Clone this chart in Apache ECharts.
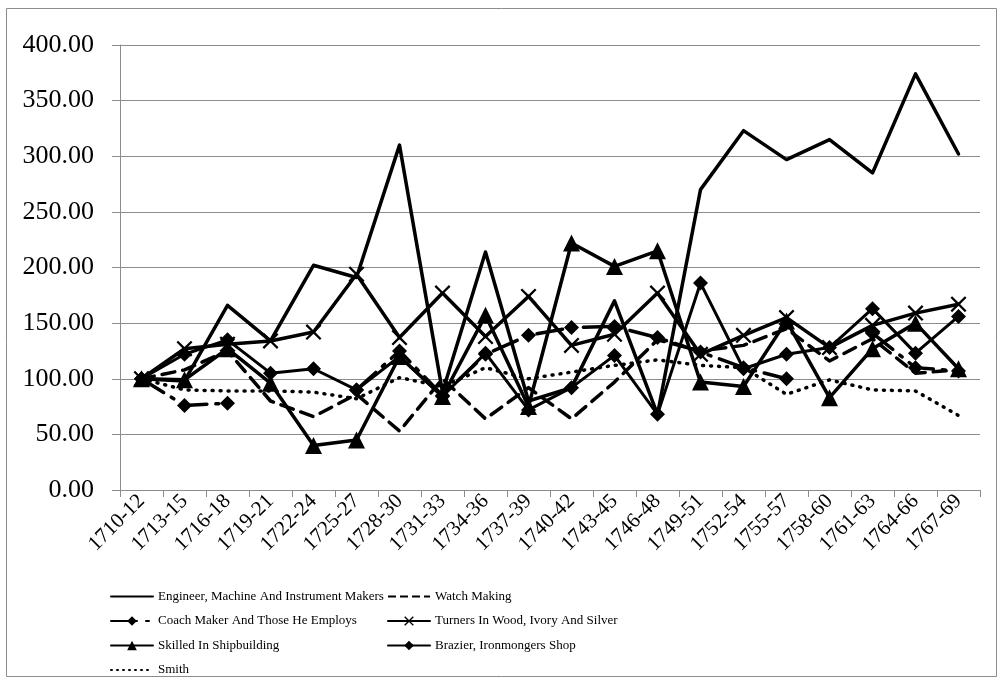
<!DOCTYPE html>
<html>
<head>
<meta charset="utf-8">
<script src="https://cdn.jsdelivr.net/npm/echarts@6/dist/echarts.min.js"></script>
<style>
  html, body { margin: 0; padding: 0; background: #fff; }
  #main { width: 1003px; height: 683px; }
</style>
</head>
<body>
<div id="main"></div>
<script>
const periods = ['1710-12', '1713-15', '1716-18', '1719-21', '1722-24', '1725-27', '1728-30',
  '1731-33', '1734-36', '1737-39', '1740-42', '1743-45', '1746-48', '1749-51', '1752-54',
  '1755-57', '1758-60', '1761-63', '1764-66', '1767-69'];

const engineer = [100, 98, 166, 134, 202, 191, 310, 88, 214, 80, 92, 170, 68, 270, 323, 297, 315, 285, 374, 302];
const watch = [100, 108, 125, 80, 66, 86, 53, 100, 64, 92, 64, 97, 135, 125, 130, 145, 116, 136, 105, 108];
const coach = [100, 76, 78, null, null, 90, 125, 85, 122, 139, 146, 147, 137, 124, 110, 100, null, 141, 110, 107];
const turners = [100, 127, 131, 134, 142, 194, 137, 177, 138, 174, 130, 140, 177, 122, 139, 155, 128, 148, 159, 167];
const skilled = [100, 99, 127, 96, 40, 45, 120, 84, 157, 75, 222, 201, 215, 97, 93, 152, 83, 127, 150, 109];
const brazier = [100, 122, 135, 105, 109, 90, 120, 84, 123, 72, 92, 121, 68, 186, 109, 122, 128, 163, 123, 156];
const smith = [100, 90, 89, 89, 88, 82, 101, 93, 110, 100, 106, 112, 117, 112, 110, 86, 99, 90, 89, 67];

const serif = "'Liberation Serif', 'DejaVu Serif', serif";
const xMark = 'path://M0,1 L1,0 L5,4 L9,0 L10,1 L6,5 L10,9 L9,10 L5,6 L1,10 L0,9 L4,5 Z';

const mk = (name, data, lineType, width, symbol, size) => ({
  name: name,
  type: 'line',
  data: data,
  symbol: symbol || 'none',
  symbolSize: size || 0,
  showSymbol: !!symbol,
  connectNulls: false,
  itemStyle: { color: '#000' },
  lineStyle: { color: '#000', width: width, type: lineType, cap: 'round', join: 'round' },
  emphasis: { disabled: true },
  animation: false,
});

// series without markers: hide the dot the legend adds
const noDot = { color: 'rgba(0,0,0,0)', borderWidth: 0 };

const legendBase = {
  orient: 'vertical',
  top: 585,
  height: 120,
  itemWidth: 42, itemHeight: 12, itemGap: 11.5,
  textStyle: { fontFamily: serif, fontSize: 13, color: '#000' },
};

const myChart = echarts.init(document.getElementById('main'));

const option = {
  backgroundColor: '#fff',
  animation: false,
  graphic: [{
    type: 'rect',
    shape: { x: 6.5, y: 8.5, width: 990, height: 668 },
    style: { fill: 'none', stroke: '#8c8c8c', lineWidth: 1 },
    silent: true,
  }],
  grid: { left: 120, right: 23, top: 45, bottom: 193 },
  legend: [
    Object.assign({}, legendBase, {
      left: 105,
      data: [
        { name: 'Engineer, Machine And Instrument Makers', itemStyle: noDot },
        'Coach Maker And Those He Employs',
        'Skilled In Shipbuilding',
        { name: 'Smith', itemStyle: noDot, lineStyle: { type: [1, 5] } },
      ],
    }),
    Object.assign({}, legendBase, {
      left: 382,
      data: [
        { name: 'Watch Making', itemStyle: noDot, lineStyle: { type: [8, 4], cap: 'butt' } },
        'Turners In Wood, Ivory And Silver',
        'Brazier, Ironmongers Shop',
      ],
    }),
  ],
  xAxis: {
    type: 'category',
    data: periods,
    boundaryGap: true,
    axisLine: { lineStyle: { color: '#8c8c8c', width: 1 } },
    axisTick: { show: true, interval: 0, length: 7, lineStyle: { color: '#8c8c8c' } },
    axisLabel: { interval: 0, rotate: 45, fontFamily: serif, fontSize: 21, color: '#000', margin: 8 },
  },
  yAxis: {
    type: 'value',
    min: 0, max: 400, interval: 50,
    axisLine: { show: true, lineStyle: { color: '#8c8c8c', width: 1 } },
    axisTick: { show: true, length: 8, lineStyle: { color: '#8c8c8c' } },
    splitLine: { lineStyle: { color: '#8c8c8c', width: 1 } },
    axisLabel: {
      fontFamily: serif, fontSize: 26, color: '#000', margin: 26,
      formatter: (v) => v.toFixed(2),
    },
  },
  series: [
    mk('Engineer, Machine And Instrument Makers', engineer, 'solid', 3.5),
    mk('Watch Making', watch, [13, 8], 3.5),
    mk('Coach Maker And Those He Employs', coach, [26, 9, 3, 9], 3.5, 'diamond', 15),
    mk('Turners In Wood, Ivory And Silver', turners, 'solid', 3.5, xMark, 16),
    mk('Skilled In Shipbuilding', skilled, 'solid', 3.5, 'triangle', 17),
    mk('Brazier, Ironmongers Shop', brazier, 'solid', 3, 'diamond', 15),
    mk('Smith', smith, [1, 7], 3.5),
  ],
};
myChart.setOption(option);
</script>
</body>
</html>
